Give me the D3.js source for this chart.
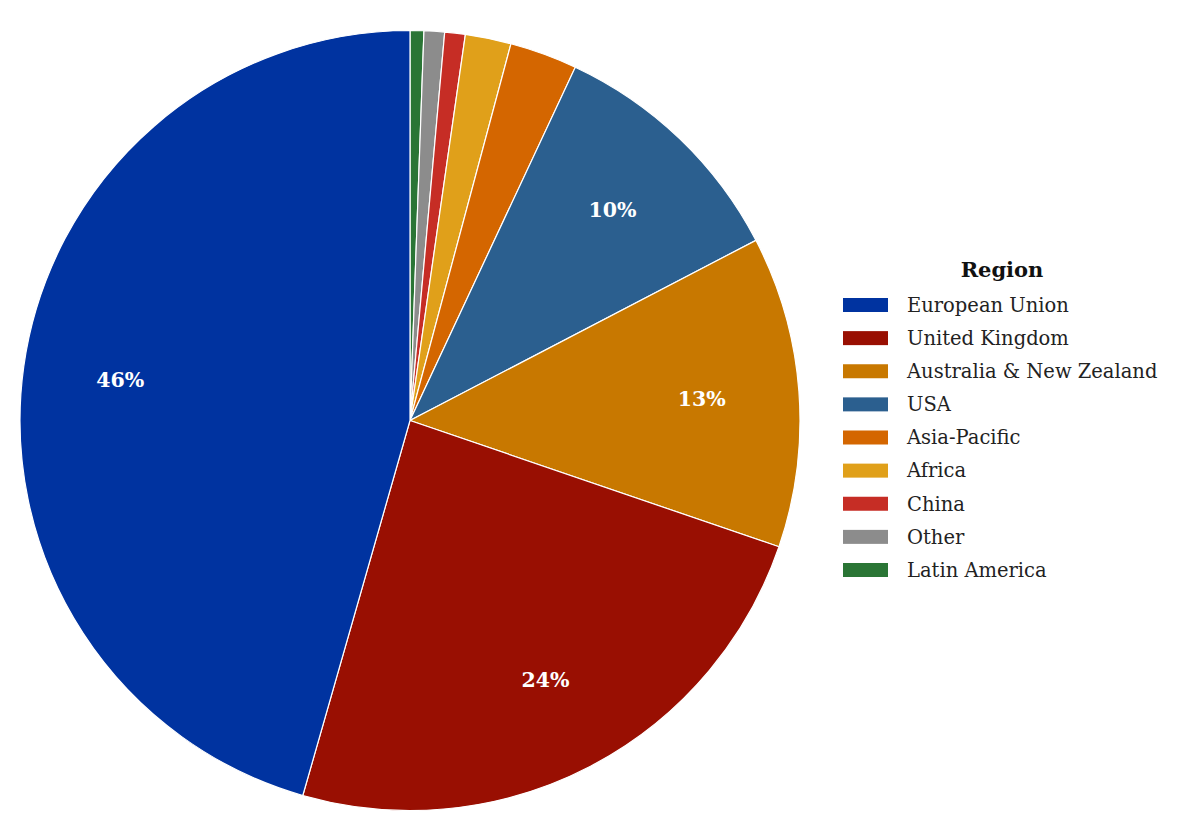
<!DOCTYPE html>
<html>
<head>
<meta charset="utf-8">
<script src="https://cdn.jsdelivr.net/npm/d3@7"></script>
<style>
  body { margin: 0; background: #fff; }
  text { font-family: "DejaVu Serif", Georgia, serif; }
</style>
</head>
<body>
<div id="piechart"></div>
<script>
// regions in legend order, share of total (%)
const regions = ["European Union", "United Kingdom", "Australia & New Zealand", "USA",
  "Asia-Pacific", "Africa", "China", "Other", "Latin America"];
const shares = [45.6, 24.2, 12.9, 10.4, 2.8, 1.9, 0.85, 0.85, 0.57];
const colors = ["#0033a0", "#990f02", "#c87800", "#2b5f8f", "#d46600",
  "#e0a01a", "#c62d25", "#8c8c8c", "#2a7535"];

const width = 1183;
const height = 839;
const cx = 410, cy = 420.5, radius = 390;

const svg = d3.select("#piechart")
  .append("svg")
  .attr("width", width)
  .attr("height", height);

const color = d3.scaleOrdinal().domain(regions).range(colors);

const data = regions.map((r, i) => ({ region: r, share: shares[i] }));

// drawn clockwise from 12 o'clock in reverse legend order
const pie = d3.pie()
  .sort(null)
  .value(d => d.share);

const arcs = pie(data.slice().reverse());

const arc = d3.arc().innerRadius(0).outerRadius(radius);
const labelArc = d3.arc().innerRadius(radius * 0.75).outerRadius(radius * 0.75);

const g = svg.append("g")
  .attr("transform", `translate(${cx},${cy})`);

g.selectAll("path")
  .data(arcs)
  .enter()
  .append("path")
  .attr("d", arc)
  .attr("fill", d => color(d.data.region))
  .attr("stroke", "#fff")
  .attr("stroke-width", 1.2);

g.selectAll("text.pct")
  .data(arcs.filter(d => d.data.share > 5))
  .enter()
  .append("text")
  .attr("class", "pct")
  .attr("transform", d => `translate(${labelArc.centroid(d)})`)
  .attr("text-anchor", "middle")
  .attr("dy", "0.35em")
  .attr("fill", "#fff")
  .attr("font-weight", "bold")
  .attr("font-size", 20.5)
  .text(d => Math.round(d.data.share) + "%");

// legend
const legend = svg.append("g")
  .attr("transform", "translate(843,0)");

legend.append("text")
  .attr("x", 159)
  .attr("y", 277)
  .attr("text-anchor", "middle")
  .attr("font-weight", "bold")
  .attr("font-size", 21)
  .attr("fill", "#111")
  .text("Region");

const rowY = d3.scaleLinear().domain([0, 8]).range([305, 570]);

const rows = legend.selectAll("g.row")
  .data(regions)
  .enter()
  .append("g")
  .attr("class", "row")
  .attr("transform", (d, i) => `translate(0,${rowY(i)})`);

rows.append("rect")
  .attr("x", 0)
  .attr("y", -7)
  .attr("width", 45)
  .attr("height", 14)
  .attr("fill", d => color(d));

rows.append("text")
  .attr("x", 64)
  .attr("dy", "0.35em")
  .attr("font-size", 19.5)
  .attr("fill", "#222")
  .text(d => d);
</script>
</body>
</html>
